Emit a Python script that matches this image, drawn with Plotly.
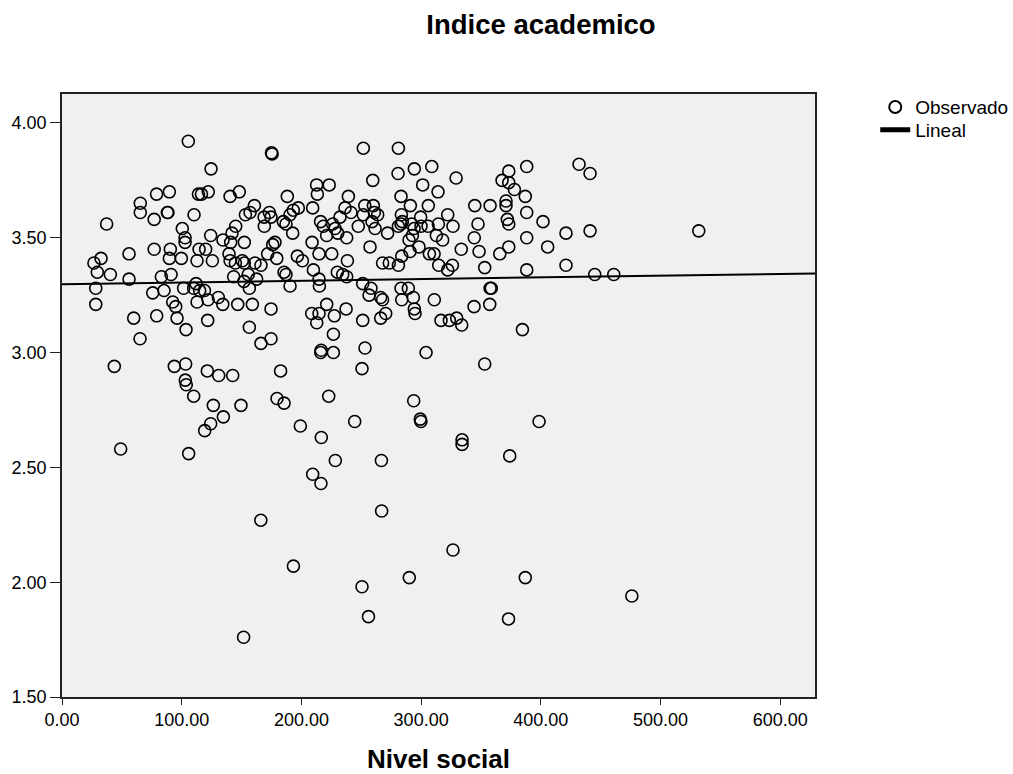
import plotly.graph_objects as go
import numpy as np

# Observed points: Nivel social (x) vs Indice academico (y)
nivel_social = [
    105.5, 79, 89.7, 114, 116.5, 122.2, 65.4, 65.4, 88, 88.5, 77, 110.3, 37.3, 100.5, 102.8, 102.8, 56, 77, 90.5, 114.5, 120,
    89.7, 99.7, 112.8, 26.7, 32.6, 29.5, 40.4, 56, 83, 91.1, 28.2, 28.2, 75.8, 85.2, 101.6, 110, 112, 115, 112.8, 92.5, 95,
    59.9, 79.1, 96.1, 103.6, 65.2, 43.7, 93.8, 103.3,
    175, 175.5, 124.5, 140.4, 148.1, 188.2, 212.7, 223.2, 213.3, 209.4, 160.7, 153.2, 157.1, 168.8, 173.2, 174.6, 169,
    184.9, 187.1, 190.5, 193.2, 197.4, 192.7, 145.1, 124.2, 134.5, 142, 140.9, 152.3, 177.9, 176, 216, 218.3, 226.1,
    228.1, 230.3, 221.1, 208.9,
    251.7, 281, 308.9, 294.3, 280.7, 329.2, 259.6, 301.3, 314.1, 239.2, 283.2, 291, 306, 252.9, 260.1, 236.4, 241.4,
    232.2, 251.7, 260.9, 263.7, 259, 261.5, 247.5, 283.5, 284.3, 283.2, 281, 299.6, 292.1, 294.1, 299.9, 305.8, 314.4,
    322.2, 326.6, 344.8, 347.5, 272, 292.7, 289.9, 312.7, 318, 344.4, 237.8, 257.3, 298.2, 333.5,
    125.6, 139.5, 140.4, 144.8, 150.6, 152.3, 161.2, 166.2, 171.8, 179.4, 143.4, 155.6, 152, 162.6, 156.5, 185.5, 187.1,
    190.5, 196.6, 200.8, 210, 214.7, 215, 214.7, 225.3, 230, 119, 122, 130.6, 134.3, 146.8, 159, 174.6, 121.7, 156.5,
    166.2, 174.6, 221.1, 208.6, 214.7, 212.8, 227.5, 226.7, 216.1, 216.5, 226.7, 121.4, 182.6,
    267.8, 273.4, 281, 283.8, 290.7, 306.9, 310.8, 314.7, 322.2, 326.1, 238.4, 234.5, 237.8, 251.2, 258.1, 256.5, 266.2,
    267.8, 283.2, 289.3, 283.8, 293.5, 294.3, 294.9, 311, 237.3, 270.4, 266.2, 251.2, 316.6, 323.6, 329.7, 333.9, 344.2,
    253.1, 304.1, 250.6,
    49, 105.8, 103, 103.8, 110, 130.9, 142.6, 126.4, 149.5, 134.8, 124.2, 119.2, 179.6, 185.5, 222.8, 199.1, 216.6,
    244.5, 228.3, 266.8, 293.8, 299.3, 299.8, 334.2, 334.2, 209.4, 216.3,
    166.1, 267, 326.6, 193.3, 250.6, 290.1, 387, 476, 256, 373, 151.7,
    357.6, 348.4, 353.1, 365.7, 373.2, 373.2, 367.6, 373.2, 377.9, 370.9, 370.9, 372, 373.2, 388.2, 387, 388.2, 388.2,
    388.2, 401.8, 405.7, 421, 421, 431.9, 441.1, 441.1, 445, 460.9, 531.9, 357.6, 358.6, 357.3, 384.6, 353.1,
    374, 398.5,
]
indice_academico = [
    3.92, 3.69, 3.70, 3.69, 3.69, 3.70, 3.65, 3.61, 3.61, 3.61, 3.58, 3.60, 3.56, 3.54, 3.50, 3.48, 3.43, 3.45, 3.45, 3.45, 3.45,
    3.41, 3.41, 3.40, 3.39, 3.41, 3.35, 3.34, 3.32, 3.33, 3.34, 3.28, 3.21, 3.26, 3.27, 3.28, 3.28, 3.30, 3.27, 3.22, 3.22, 3.20,
    3.15, 3.16, 3.15, 3.10, 3.06, 2.94, 2.94, 2.95,
    3.87, 3.865, 3.80, 3.68, 3.70, 3.68, 3.73, 3.73, 3.69, 3.63, 3.64, 3.60, 3.61, 3.59, 3.61, 3.59, 3.55,
    3.57, 3.56, 3.60, 3.62, 3.63, 3.52, 3.55, 3.51, 3.49, 3.52, 3.48, 3.48, 3.48, 3.47, 3.57, 3.55, 3.56,
    3.54, 3.52, 3.51, 3.48,
    3.89, 3.89, 3.81, 3.80, 3.78, 3.76, 3.75, 3.73, 3.70, 3.68, 3.68, 3.64, 3.64, 3.64, 3.64, 3.63, 3.61,
    3.59, 3.60, 3.61, 3.60, 3.57, 3.54, 3.55, 3.60, 3.57, 3.56, 3.55, 3.59, 3.56, 3.54, 3.55, 3.55, 3.56,
    3.60, 3.55, 3.64, 3.56, 3.52, 3.51, 3.49, 3.51, 3.49, 3.50, 3.50, 3.46, 3.46, 3.45,
    3.40, 3.43, 3.40, 3.39, 3.40, 3.39, 3.39, 3.38, 3.43, 3.41, 3.33, 3.34, 3.31, 3.32, 3.28, 3.35, 3.34,
    3.29, 3.42, 3.40, 3.36, 3.32, 3.29, 3.43, 3.43, 3.35, 3.27, 3.23, 3.24, 3.21, 3.21, 3.21, 3.19, 3.14, 3.11,
    3.04, 3.06, 3.21, 3.17, 3.17, 3.13, 3.16, 3.08, 3.00, 3.01, 3.00, 2.92, 2.92,
    3.39, 3.39, 3.38, 3.42, 3.44, 3.43, 3.43, 3.38, 3.36, 3.38, 3.40, 3.34, 3.33, 3.30, 3.28, 3.25, 3.24,
    3.23, 3.28, 3.28, 3.23, 3.24, 3.19, 3.17, 3.23, 3.19, 3.17, 3.15, 3.14, 3.14, 3.14, 3.15, 3.12, 3.20,
    3.02, 3.00, 2.93,
    2.58, 2.56, 2.88, 2.86, 2.81, 2.90, 2.90, 2.77, 2.77, 2.72, 2.69, 2.66, 2.80, 2.78, 2.81, 2.68, 2.63,
    2.70, 2.53, 2.53, 2.79, 2.71, 2.70, 2.62, 2.60, 2.47, 2.43,
    2.27, 2.31, 2.14, 2.07, 1.98, 2.02, 2.02, 1.94, 1.85, 1.84, 1.76,
    3.64, 3.44, 3.37, 3.43, 3.46, 3.79, 3.75, 3.74, 3.71, 3.66, 3.64, 3.58, 3.56, 3.81, 3.68, 3.61, 3.50,
    3.36, 3.57, 3.46, 3.52, 3.38, 3.82, 3.78, 3.53, 3.34, 3.34, 3.53, 3.28, 3.28, 3.21, 3.10, 2.95,
    2.55, 2.70,
]

# Linear fit line
fit_intercept = 3.298
fit_slope = 0.0000735
x_range = [0, 629]
y_range = [1.5, 4.126]
x_ticks = [0, 100, 200, 300, 400, 500, 600]
y_ticks = [1.5, 2.0, 2.5, 3.0, 3.5, 4.0]

font_family = "Arial, Liberation Sans, sans-serif"

fit_x = np.array(x_range, dtype=float)
fit_y = fit_intercept + fit_slope * fit_x

fig = go.Figure()
fig.add_trace(go.Scatter(
    x=nivel_social, y=indice_academico, mode="markers", name="Observado", legend="legend",
    marker=dict(symbol="circle-open", size=12, color="black", line=dict(width=1.6, color="black")),
))
fig.add_trace(go.Scatter(
    x=fit_x, y=fit_y, mode="lines", name="Lineal", legend="legend2",
    line=dict(color="black", width=2),
))

legend_style = dict(xanchor="left", yanchor="top", bgcolor="rgba(0,0,0,0)",
                    font=dict(family=font_family, size=19, color="black"), itemsizing="constant")

fig.update_layout(
    width=1013, height=774,
    margin=dict(l=62, r=198, t=94, b=77, autoexpand=False),
    paper_bgcolor="white",
    plot_bgcolor="#F0F0F0",
    font=dict(family=font_family, size=18, color="black"),
    title=dict(text="<b>Indice academico</b>", x=541/1013, xanchor="center", y=1 - 24/774, yanchor="middle",
               font=dict(family=font_family, size=27.5, color="black")),
    showlegend=True,
    legend=dict(x=1.08, y=1.0096, **legend_style),
    legend2=dict(x=1.08, y=0.972, **legend_style),
)
fig.update_xaxes(
    range=x_range, tickvals=x_ticks, tickformat=".2f", showgrid=False, zeroline=False,
    showline=True, linecolor="#222", linewidth=1.5, mirror=True, automargin=False,
    ticks="outside", ticklen=6, tickcolor="#222",
    tickfont=dict(family=font_family, size=18, color="black"),
    title=dict(text="<b>Nivel social</b>", font=dict(family=font_family, size=26, color="black"), standoff=27),
)
fig.update_yaxes(
    range=y_range, tickvals=y_ticks, tickformat=".2f", showgrid=False, zeroline=False,
    showline=True, linecolor="#222", linewidth=1.5, mirror=True, automargin=False,
    ticks="outside", ticklen=10, tickcolor="#222",
    tickfont=dict(family=font_family, size=18, color="black"),
)

fig.write_html("out.html")
